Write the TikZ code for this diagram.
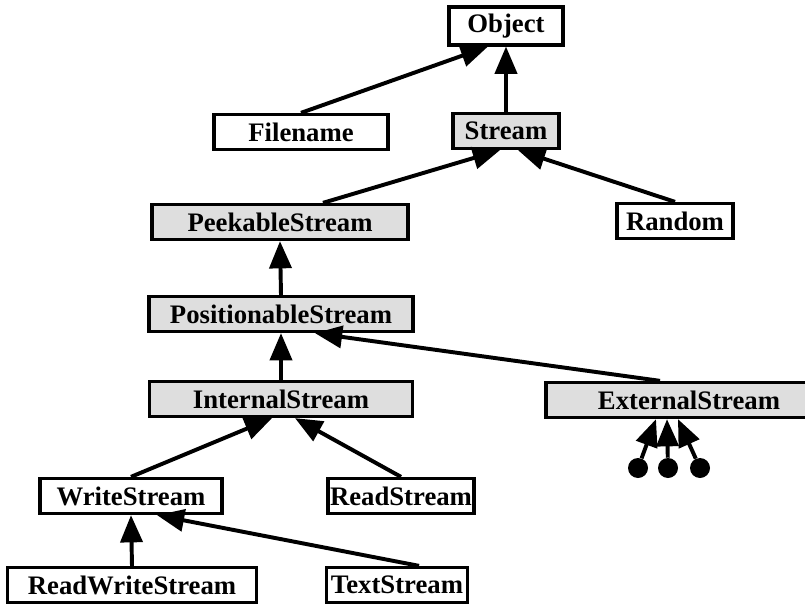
\documentclass[tikz,border=0pt]{standalone}
\usepackage{fontspec}
\setmainfont{Liberation Serif}
\usepackage{tikz}
\usetikzlibrary{arrows.meta,calc}
\definecolor{BoxLine}{RGB}{0,0,0}
\definecolor{ShadeFill}{RGB}{222,222,222}
\tikzset{
  nd_cls/.style={rectangle,draw=BoxLine,fill=white,line width=2.2pt,inner sep=0pt,minimum height=0.88cm,font=\bfseries\fontsize{19}{22}\selectfont},
  nd_shd/.style={nd_cls,fill=ShadeFill},
  nd_dot/.style={circle,fill=black,minimum size=0.5cm,inner sep=0pt},
  arr/.style={-{Triangle[length=0.68cm,width=0.55cm]},line width=2.8pt},
}

\begin{document}
\begin{tikzpicture}[x=0.025cm,y=-0.025cm]
\useasboundingbox (0,0) rectangle (805,605);
% top
\node[nd_cls,minimum width=2.85cm,minimum height=0.95cm] at (506,26)(obj){Object};
\node[nd_cls,minimum width=4.35cm] at (301,132)(fname){Filename};
\node[nd_shd,minimum width=2.65cm] at (506,131)(strm){Stream};
\node[nd_shd,minimum width=6.4cm] at (280,222)(peek){PeekableStream};
\node[nd_cls,minimum width=2.9cm] at (675,221)(rand){Random};
% middle
\node[nd_shd,minimum width=6.6cm] at (281,314)(posn){PositionableStream};
\node[nd_shd,minimum width=6.575cm] at (281,399)(intl){InternalStream};
\node[nd_shd,minimum width=7.15cm] at (689,400)(extl){ExternalStream};
% bottom
\node[nd_cls,minimum width=4.55cm] at (131,496)(wrt){WriteStream};
\node[nd_cls,minimum width=3.65cm] at (401,496)(rd){ReadStream};
\node[nd_cls,minimum width=6.225cm] at (132,585)(rw){ReadWriteStream};
\node[nd_cls,minimum width=3.525cm] at (397,585)(txt){TextStream};
% arrows
\draw[arr](fname.north)--($(obj.south)+(-18,0)$);
\draw[arr](strm.north)--(obj.south);
\draw[arr]($(peek.north)+(43,0)$)--($(strm.south)+(-6,0)$);
\draw[arr](rand.north)--($(strm.south)+(12,0)$);
\draw[arr](posn.north)--(peek.south);
\draw[arr](intl.north)--(posn.south);
\draw[arr]($(extl.north)+(-29,0)$)--($(posn.south)+(34,0)$);
\draw[arr](wrt.north)--($(intl.south)+(-9,0)$);
\draw[arr](rd.north)--($(intl.south)+(14,0)$);
\draw[arr](rw.north)--(wrt.south);
\draw[arr]($(txt.north)+(22,0)$)--($(wrt.south)+(26,0)$);
\foreach \n/\x/\s in {d1/638/-33,d2/668/-22,d3/700/-11}{
  \node[nd_dot] at (\x,468)(\n){};
  \draw[arr](\n)--($(extl.south)+(\s,0)$);}
\end{tikzpicture}
\end{document}
